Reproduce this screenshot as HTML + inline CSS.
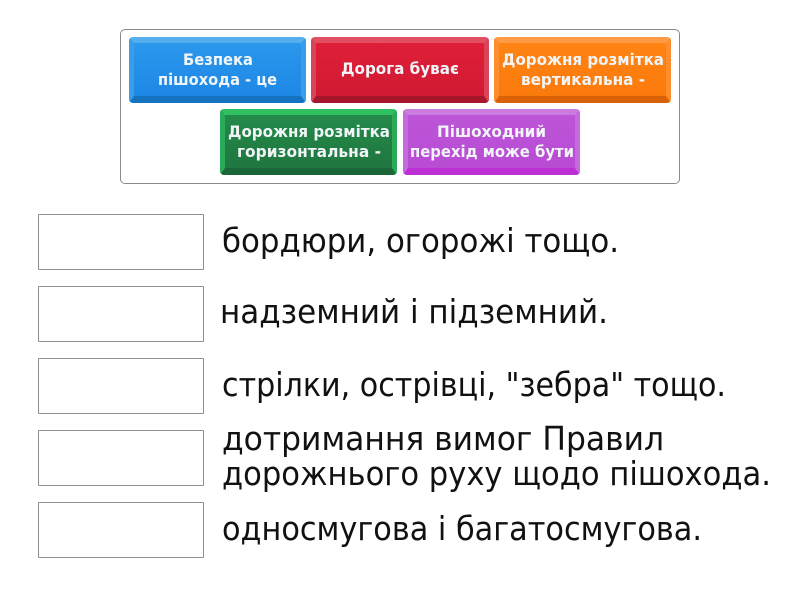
<!DOCTYPE html>
<html><head><meta charset="utf-8"><style>
html,body{margin:0;padding:0;background:#fff}
body{width:800px;height:600px;position:relative;overflow:hidden}
.c{position:absolute;left:120px;top:29px;width:558px;height:153px;border:1px solid #8a8a8a;border-radius:5px}
.t{position:absolute;width:177px;height:66px;box-sizing:border-box;border-radius:4px;border-style:solid;border-width:6px 5px 7px}
.b{position:absolute;left:38px;width:164px;height:54px;border:1px solid #8f8f8f;border-radius:1px}
svg{position:absolute;left:0;top:0}
</style></head><body>
<div class="c"></div>
<div class="t" style="left:129px;top:37px;background:linear-gradient(#2b97ec,#1e88e5);border-color:#56aeee #3a9dea #1473c0"></div>
<div class="t" style="left:311px;top:37px;width:178px;background:linear-gradient(#df1f38,#d11a33);border-color:#e24f62 #d94458 #a5152b"></div>
<div class="t" style="left:494px;top:37px;background:linear-gradient(#ff8413,#fb7a0c);border-color:#ff9a45 #fd8d2f #d96106"></div>
<div class="t" style="left:220px;top:109px;background:linear-gradient(#238a4a,#20773f);border-color:#2fc061 #2bab57 #1b6636"></div>
<div class="t" style="left:403px;top:109px;background:linear-gradient(#bd55d8,#b84cd3);border-color:#ca7ddf #c56bdc #bb2fd4"></div>
<div class="b" style="top:214px"></div>
<div class="b" style="top:286px"></div>
<div class="b" style="top:358px"></div>
<div class="b" style="top:430px"></div>
<div class="b" style="top:502px"></div>
<svg width="800" height="600" xmlns="http://www.w3.org/2000/svg">
<g font-family="'DejaVu Sans',sans-serif" font-weight="bold" font-size="16" fill="#f1f5f8">
<text x="183" y="65" textLength="70" lengthAdjust="spacingAndGlyphs">Безпека</text>
<text x="158" y="85" textLength="119" lengthAdjust="spacingAndGlyphs">пішохода - це</text>
<text x="341" y="74" textLength="118" lengthAdjust="spacingAndGlyphs">Дорога буває</text>
<text x="502" y="65" textLength="162" lengthAdjust="spacingAndGlyphs">Дорожня розмітка</text>
<text x="521" y="85" textLength="124" lengthAdjust="spacingAndGlyphs">вертикальна -</text>
<text x="228" y="137" textLength="162" lengthAdjust="spacingAndGlyphs">Дорожня розмітка</text>
<text x="237" y="157" textLength="144" lengthAdjust="spacingAndGlyphs">горизонтальна -</text>
<text x="437" y="137" textLength="109" lengthAdjust="spacingAndGlyphs">Пішоходний</text>
<text x="410" y="157" textLength="164" lengthAdjust="spacingAndGlyphs">перехід може бути</text>
</g>
<g font-family="'DejaVu Sans',sans-serif" font-size="33" fill="#111">
<text x="222" y="252" textLength="397" lengthAdjust="spacingAndGlyphs">бордюри, огорожі тощо.</text>
<text x="220" y="323" textLength="388" lengthAdjust="spacingAndGlyphs">надземний і підземний.</text>
<text x="222" y="396" textLength="504" lengthAdjust="spacingAndGlyphs">стрілки, острівці, "зебра" тощо.</text>
<text x="222" y="450" textLength="442" lengthAdjust="spacingAndGlyphs">дотримання вимог Правил</text>
<text x="222" y="485" textLength="549" lengthAdjust="spacingAndGlyphs">дорожнього руху щодо пішохода.</text>
<text x="222" y="540" textLength="480" lengthAdjust="spacingAndGlyphs">односмугова і багатосмугова.</text>
</g>
</svg>
</body></html>
